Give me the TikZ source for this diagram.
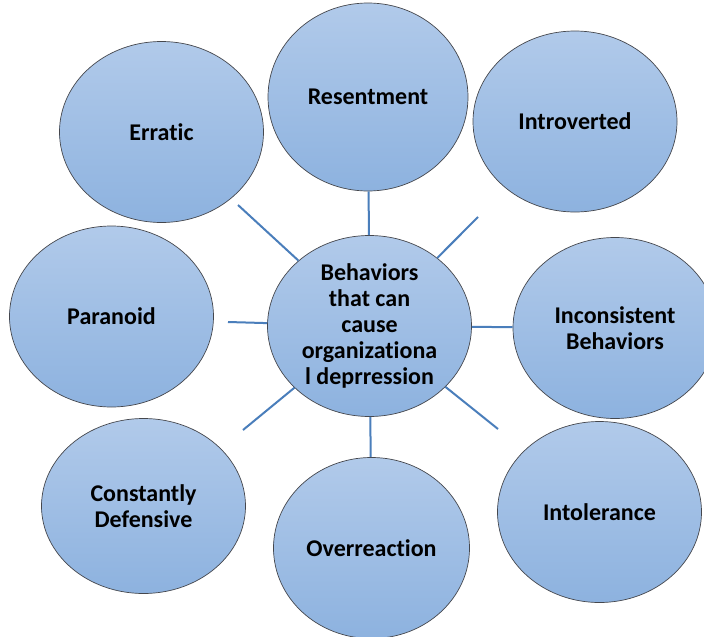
\documentclass[tikz,border=0pt]{standalone}
\usepackage{fontspec}
\setmainfont{Carlito}[Ligatures=NoCommon]
\usetikzlibrary{shapes.geometric}
\definecolor{bubbletop}{HTML}{B1CAEA}
\definecolor{bubblebot}{HTML}{8DB2DF}
\definecolor{bubbleedge}{HTML}{45474D}
\definecolor{linkblue}{HTML}{4A7EBB}
\begin{document}
\begin{tikzpicture}[x=1pt,y=-1pt,
  bubble/.style={ellipse, minimum width=204pt, minimum height=181pt,
    inner sep=0pt, top color=bubbletop, bottom color=bubblebot,
    draw=bubbleedge, line width=0.7pt},
  lbl/.style={font=\bfseries\fontsize{24}{26}\selectfont,
    align=center, inner sep=0pt, text=black},
  link/.style={draw=linkblue, line width=2pt}]
\clip (0,0) rectangle (704,637);
\fill[white] (0,0) rectangle (704,637);

% central bubble
\node[bubble, label={[lbl]center:Behaviors\\that can\\cause\\organizationa\\l deprression}]
  (c) at (369.5,326) {};

% surrounding bubbles
\node[bubble, label={[lbl]center:Erratic}]     (err)   at (161.5,132) {};
\node[bubble, minimum width=200pt, minimum height=188pt,
      label={[lbl]center:Resentment}]          (res)   at (368,97) {};
\node[bubble, label={[lbl]center:Introverted}] (intro) at (575,121.5) {};
\node[bubble, label={[lbl]center:Paranoid}]    (par)   at (111.5,316.5) {};
\node[bubble, label={[lbl]center:Inconsistent\\Behaviors}] (inc) at (615,328) {};
\node[bubble, minimum height=175pt,
      label={[lbl]center:Constantly\\Defensive}] (def) at (143.5,506) {};
\node[bubble, minimum width=196pt,
      label={[lbl]center:Overreaction}]        (over)  at (371.5,548) {};
\node[bubble, label={[lbl]center:Intolerance}] (intol) at (599.5,512) {};

% free ends of the spokes that stop short of their bubble
\coordinate (ul) at (238,205);
\coordinate (ur) at (478,217);
\coordinate (lf) at (228,322);
\coordinate (ll) at (243,430);
\coordinate (lr) at (498,429);

% spokes
\draw[link] (c) -- (res);
\draw[link] (c) -- (inc);
\draw[link] (c) -- (over);
\draw[link] (c) -- (ul);
\draw[link] (c) -- (ur);
\draw[link] (c) -- (lf);
\draw[link] (c) -- (ll);
\draw[link] (c) -- (lr);
\end{tikzpicture}
\end{document}
